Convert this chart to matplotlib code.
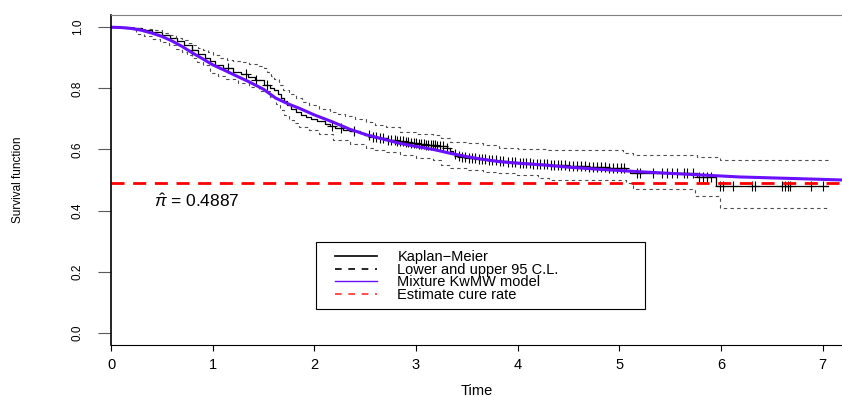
import numpy as np
import matplotlib
matplotlib.use("Agg")
import matplotlib.pyplot as plt
from matplotlib.patches import Rectangle

plt.rcParams['font.family'] = ['Liberation Sans', 'DejaVu Sans']
plt.rcParams['mathtext.fontset'] = 'custom'
plt.rcParams['mathtext.rm'] = 'Liberation Sans'
plt.rcParams['mathtext.it'] = 'Liberation Sans:italic'

# Kaplan-Meier estimate (step function)
km_t = [0, 0.15, 0.3, 0.4, 0.5, 0.58, 0.65, 0.72, 0.8, 0.86, 0.92, 0.97, 1.02, 1.1,
        1.2, 1.28, 1.35, 1.42, 1.5, 1.56, 1.6, 1.64, 1.67, 1.7, 1.73, 1.77, 1.82,
        1.87, 1.92, 1.97, 2.03, 2.1, 2.15, 2.2, 2.28, 2.35, 2.45, 2.5, 2.58, 2.65,
        2.72, 2.8, 2.88, 2.95, 3.03, 3.1, 3.2, 3.3, 3.33, 3.36, 3.4, 3.45, 3.52,
        3.6, 3.7, 3.8, 3.9, 4.0, 4.15, 4.3, 4.5, 4.7, 4.9, 5.07, 5.1, 5.76, 5.95,
        7.05]
km_s = [1.0, 0.997, 0.99, 0.983, 0.975, 0.965, 0.955, 0.942, 0.925, 0.912, 0.9,
        0.888, 0.877, 0.866, 0.855, 0.846, 0.837, 0.828, 0.812, 0.802, 0.794, 0.78,
        0.768, 0.757, 0.745, 0.733, 0.722, 0.714, 0.707, 0.70, 0.692, 0.683, 0.676,
        0.671, 0.665, 0.66, 0.654, 0.648, 0.642, 0.637, 0.632, 0.627, 0.623, 0.62,
        0.617, 0.614, 0.61, 0.604, 0.596, 0.586, 0.58, 0.576, 0.572, 0.568, 0.565,
        0.562, 0.559, 0.556, 0.552, 0.549, 0.546, 0.543, 0.54, 0.533, 0.522, 0.51,
        0.48, 0.48]

# 95% confidence limits
up_t = [0, 0.2, 0.3, 0.4, 0.5, 0.57, 0.64, 0.7, 0.76, 0.8, 0.86, 0.9, 0.95, 1.0,
        1.07, 1.14, 1.2, 1.28, 1.36, 1.45, 1.5, 1.53, 1.57, 1.6, 1.65, 1.69, 1.75,
        1.82, 1.88, 1.95, 2.05, 2.15, 2.23, 2.3, 2.4, 2.51, 2.6, 2.7, 2.84, 3.0,
        3.17, 3.25, 3.33, 3.5, 3.66, 3.82, 4.0, 4.3, 5.04, 5.13, 5.76, 5.99, 7.05]
up_s = [1.0, 0.998, 0.995, 0.99, 0.982, 0.974, 0.966, 0.958, 0.95, 0.942, 0.933,
        0.925, 0.918, 0.91, 0.898, 0.894, 0.89, 0.886, 0.881, 0.874, 0.866, 0.854,
        0.842, 0.83, 0.812, 0.794, 0.78, 0.767, 0.756, 0.745, 0.733, 0.723, 0.716,
        0.71, 0.70, 0.69, 0.681, 0.672, 0.658, 0.652, 0.647, 0.636, 0.625, 0.62,
        0.614, 0.604, 0.6, 0.598, 0.587, 0.582, 0.576, 0.565, 0.565]
lo_t = [0, 0.25, 0.32, 0.4, 0.48, 0.57, 0.64, 0.7, 0.75, 0.8, 0.85, 0.9, 0.97,
        1.05, 1.13, 1.25, 1.36, 1.46, 1.56, 1.62, 1.66, 1.7, 1.75, 1.8, 1.85, 1.95,
        2.05, 2.18, 2.35, 2.51, 2.6, 2.7, 2.84, 3.0, 3.17, 3.25, 3.33, 3.5, 3.66,
        3.8, 3.99, 4.2, 4.31, 5.07, 5.13, 5.74, 5.99, 7.05]
lo_s = [1.0, 0.979, 0.971, 0.962, 0.952, 0.941, 0.93, 0.92, 0.909, 0.898, 0.887,
        0.875, 0.849, 0.84, 0.832, 0.818, 0.805, 0.79, 0.772, 0.75, 0.729, 0.712,
        0.696, 0.685, 0.674, 0.663, 0.65, 0.631, 0.618, 0.604, 0.598, 0.592, 0.582,
        0.573, 0.565, 0.55, 0.538, 0.532, 0.527, 0.522, 0.516, 0.506, 0.50, 0.489,
        0.47, 0.448, 0.407, 0.407]

# fitted mixture KwMW survival
model_t = [0, 0.1, 0.2, 0.3, 0.4, 0.5, 0.6, 0.7, 0.8, 0.9, 1.0, 1.13, 1.25, 1.36,
           1.5, 1.62, 1.75, 1.85, 2.0, 2.18, 2.35, 2.51, 2.7, 2.84, 3.0, 3.17, 3.33,
           3.49, 3.65, 3.82, 4.0, 4.22, 4.5, 4.8, 5.2, 5.6, 6.18, 6.7, 7.2]
model_s = [1.0, 0.999, 0.996, 0.99, 0.981, 0.97, 0.955, 0.937, 0.916, 0.897, 0.877,
           0.857, 0.838, 0.821, 0.797, 0.768, 0.748, 0.735, 0.713, 0.69, 0.666,
           0.648, 0.632, 0.620, 0.610, 0.600, 0.588, 0.577, 0.568, 0.560, 0.555,
           0.550, 0.542, 0.535, 0.527, 0.520, 0.510, 0.505, 0.500]

cure_rate = 0.4887

# censored times
censor_t = [0.8, 1.15, 1.33, 1.43, 1.53, 2.17, 2.26, 2.39,
            2.54, 2.58, 2.61, 2.65, 2.68, 2.72, 2.75, 2.79, 2.81, 2.84, 2.87, 2.9,
            2.92, 2.95, 2.98, 3.0, 3.03, 3.05, 3.08, 3.1, 3.12, 3.15, 3.17, 3.19,
            3.21, 3.24, 3.27, 3.3, 3.38, 3.42, 3.45, 3.48, 3.52, 3.55, 3.58, 3.62,
            3.65, 3.68, 3.72, 3.75, 3.79, 3.83, 3.86, 3.9, 3.94, 3.97, 4.02, 4.05,
            4.08, 4.12, 4.15, 4.19, 4.22, 4.26, 4.29, 4.33, 4.36, 4.4, 4.43, 4.47,
            4.5, 4.54, 4.58, 4.62, 4.66, 4.7, 4.74, 4.78, 4.82, 4.86, 4.9, 4.94,
            4.98, 5.02, 5.05, 5.17, 5.2, 5.33, 5.42, 5.47, 5.52, 5.57, 5.64, 5.67,
            5.72, 5.78, 5.82, 5.86, 5.9, 5.99, 6.02, 6.12, 6.3, 6.33, 6.6, 6.63,
            6.66, 6.68, 6.89, 7.0]

idx = np.searchsorted(km_t, censor_t, side='right') - 1
censor_s = np.array(km_s)[idx]

fig = plt.figure(figsize=(8.42, 3.97), dpi=100)
ax = fig.add_axes([111 / 842, 52 / 397, 731 / 842, 330 / 397])

ax.plot(km_t, km_s, color='black', lw=0.9, drawstyle='steps-post')
ax.plot(censor_t, censor_s, ls='none', marker='+', ms=7, mew=0.8, color='black')
ax.plot(up_t, up_s, color='0.3', lw=0.8, ls=(0, (3, 3)), drawstyle='steps-post')
ax.plot(lo_t, lo_s, color='0.3', lw=0.8, ls=(0, (3, 3)), drawstyle='steps-post')
ax.plot(model_t, model_s, color='#6a10ff', lw=2.2)
ax.axhline(cure_rate, color='#ff0000', lw=2, ls=(0, (4.7, 3.1)))

ax.text(0.42, 0.43, r'$\hat{\pi}$' + ' = ' + str(cure_rate), fontsize=12.5, va='center')

ax.set_xlim(0, 7.19)
ax.set_ylim(-0.04, 1.04)
ax.set_xticks(range(8))
ax.set_yticks([0, 0.2, 0.4, 0.6, 0.8, 1.0])
ax.set_yticklabels(['0.0', '0.2', '0.4', '0.6', '0.8', '1.0'])
ax.tick_params(axis='x', length=4.5, width=0.8, pad=5, labelsize=10.5)
ax.tick_params(axis='y', length=9.5, width=0.8, color='0.35', pad=10,
               labelsize=8.5, labelrotation=90)
for lab in ax.get_yticklabels():
    lab.set_va('center')

ax.spines['right'].set_visible(False)
ax.spines['top'].set_color('0.5')
ax.spines['top'].set_linewidth(0.8)
ax.spines['left'].set_linewidth(1.2)

ax.set_xlabel('Time', fontsize=10.5)
ax.xaxis.set_label_coords(0.5, -0.139)
ax.xaxis.label.set_va('center')
ax.set_ylabel('Survival function', fontsize=8.5)
ax.yaxis.set_label_coords(-0.127, 0.5)
ax.yaxis.label.set_va('center')

# legend
h1, = ax.plot([], [], color='black', lw=1.2)
h2, = ax.plot([], [], color='black', lw=1.2, ls=(0, (4, 4)))
h3, = ax.plot([], [], color='#6a10ff', lw=1.0)
h4, = ax.plot([], [], color='#ff3030', lw=1.2, ls=(0, (4, 4)))
ax.add_patch(Rectangle((0.280, 0.109), 0.450, 0.203, transform=ax.transAxes,
                       fill=False, edgecolor='black', lw=0.8))
ax.legend([h1, h2, h3, h4],
          ['Kaplan\u2212Meier', 'Lower and upper 95 C.L.', 'Mixture KwMW model',
           'Estimate cure rate'],
          loc='upper left', bbox_to_anchor=(0.306, 0.287), frameon=False,
          fontsize=10.5, borderpad=0, borderaxespad=0, labelspacing=-0.1,
          handlelength=2.9, handletextpad=1.4)

fig.savefig('out.png', dpi=100)
